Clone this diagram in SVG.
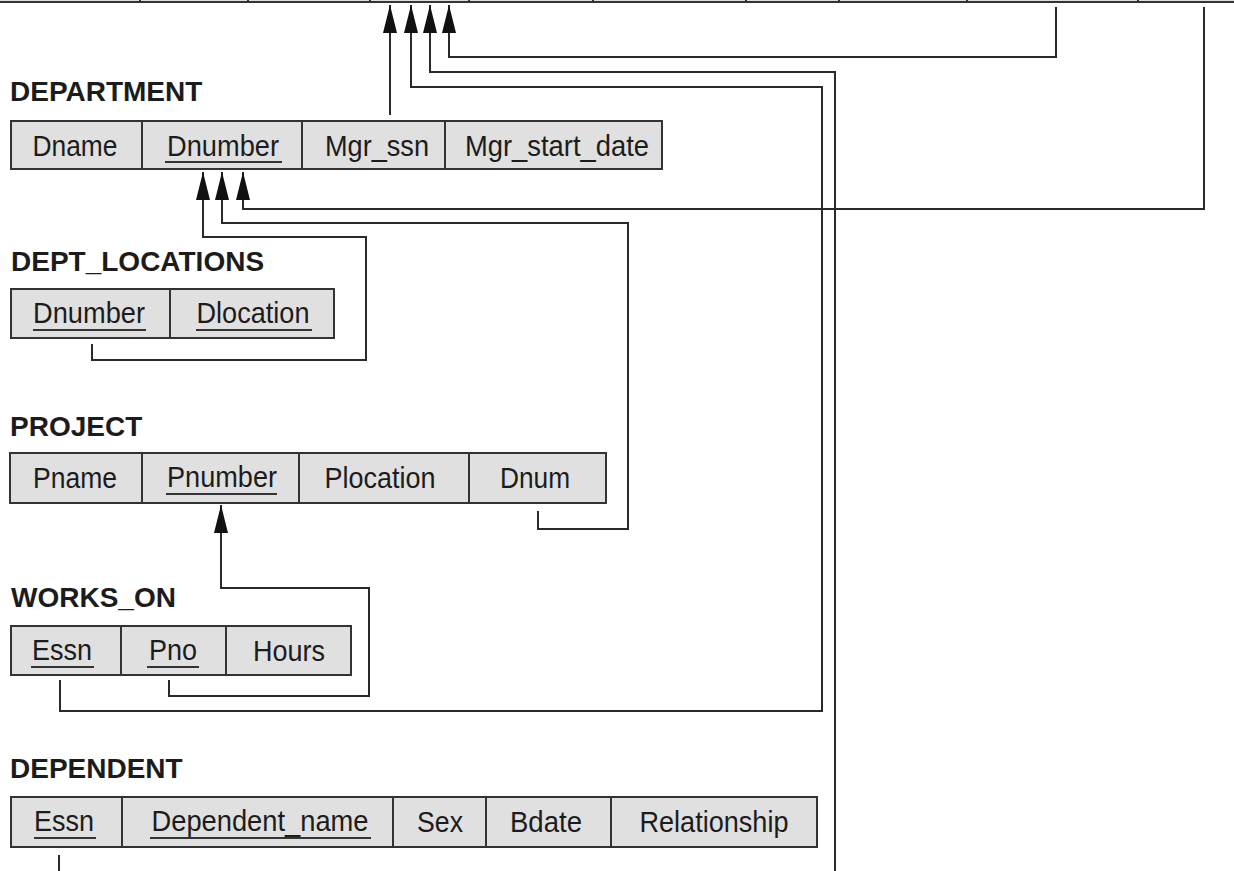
<svg xmlns="http://www.w3.org/2000/svg" width="1234" height="871" viewBox="0 0 1234 871">
<style>
.box{fill:#e0e0e0;stroke:#333;stroke-width:2}
.div{stroke:#333;stroke-width:2}
.cell{font-family:"Liberation Sans",Arial,sans-serif;font-size:29px;fill:#1c1c1c;text-anchor:middle}
.title{font-family:"Liberation Sans",Arial,sans-serif;font-size:28px;font-weight:bold;fill:#1c1c1c}
.ul{stroke:#333;stroke-width:2}
.conn{fill:none;stroke:#2a2a2a;stroke-width:2}
</style>
<defs>
<marker id="ah" markerUnits="userSpaceOnUse" markerWidth="28" markerHeight="14" viewBox="0 0 28 14" refX="28" refY="7" orient="auto">
<path d="M0,0 L28,7 L0,14 z" fill="#111"/>
</marker>
</defs>
<rect width="1234" height="871" fill="#fff"/>

<g id="employee">
<rect class="box" x="-5" y="-50" width="1244" height="52"/>
<path class="div" d="M140,-2V2 M248,-2V2 M370,-2V2 M469,-2V2 M593,-2V2 M746,-2V2 M839,-2V2 M967,-2V2 M1138,-2V2"/>
</g>

<g id="department">
<text class="title" x="10" y="101">DEPARTMENT</text>
<rect class="box" x="11" y="121" width="651" height="48"/>
<path class="div" d="M142,121V169 M302,121V169 M445,121V169"/>
<text class="cell" x="75" y="156" textLength="85" lengthAdjust="spacingAndGlyphs">Dname</text>
<text class="cell" x="223" y="156" textLength="112" lengthAdjust="spacingAndGlyphs">Dnumber</text>
<line class="ul" x1="165" y1="162" x2="282" y2="162"/>
<text class="cell" x="377" y="156" textLength="104" lengthAdjust="spacingAndGlyphs">Mgr_ssn</text>
<text class="cell" x="557" y="156" textLength="184" lengthAdjust="spacingAndGlyphs">Mgr_start_date</text>
</g>

<g id="dept_locations">
<text class="title" x="11" y="271">DEPT_LOCATIONS</text>
<rect class="box" x="11" y="289" width="323" height="49"/>
<path class="div" d="M170,289V338"/>
<text class="cell" x="89" y="323" textLength="112" lengthAdjust="spacingAndGlyphs">Dnumber</text>
<line class="ul" x1="33" y1="330" x2="146" y2="330"/>
<text class="cell" x="253" y="323" textLength="113" lengthAdjust="spacingAndGlyphs">Dlocation</text>
<line class="ul" x1="196" y1="330" x2="312" y2="330"/>
</g>

<g id="project">
<text class="title" x="10" y="436">PROJECT</text>
<rect class="box" x="10" y="453" width="596" height="50"/>
<path class="div" d="M142,453V503 M299,453V503 M469,453V503"/>
<text class="cell" x="75" y="488" textLength="84" lengthAdjust="spacingAndGlyphs">Pname</text>
<text class="cell" x="222" y="487" textLength="110" lengthAdjust="spacingAndGlyphs">Pnumber</text>
<line class="ul" x1="166" y1="494" x2="277" y2="494"/>
<text class="cell" x="380" y="488" textLength="111" lengthAdjust="spacingAndGlyphs">Plocation</text>
<text class="cell" x="535" y="488" textLength="70" lengthAdjust="spacingAndGlyphs">Dnum</text>
</g>

<g id="works_on">
<text class="title" x="11" y="607">WORKS_ON</text>
<rect class="box" x="11" y="626" width="340" height="49"/>
<path class="div" d="M121,626V675 M226,626V675"/>
<text class="cell" x="62" y="660" textLength="60" lengthAdjust="spacingAndGlyphs">Essn</text>
<line class="ul" x1="31" y1="667" x2="94" y2="667"/>
<text class="cell" x="173" y="660" textLength="48" lengthAdjust="spacingAndGlyphs">Pno</text>
<line class="ul" x1="147" y1="667" x2="199" y2="667"/>
<text class="cell" x="289" y="661" textLength="72" lengthAdjust="spacingAndGlyphs">Hours</text>
</g>

<g id="dependent">
<text class="title" x="10" y="778">DEPENDENT</text>
<rect class="box" x="11" y="797" width="806" height="50"/>
<path class="div" d="M122,797V847 M393,797V847 M486,797V847 M611,797V847"/>
<text class="cell" x="64" y="831" textLength="60" lengthAdjust="spacingAndGlyphs">Essn</text>
<line class="ul" x1="34" y1="838" x2="96" y2="838"/>
<text class="cell" x="260" y="831" textLength="217" lengthAdjust="spacingAndGlyphs">Dependent_name</text>
<line class="ul" x1="150" y1="838" x2="371" y2="838"/>
<text class="cell" x="440" y="832" textLength="46" lengthAdjust="spacingAndGlyphs">Sex</text>
<text class="cell" x="546" y="832" textLength="72" lengthAdjust="spacingAndGlyphs">Bdate</text>
<text class="cell" x="714" y="832" textLength="149" lengthAdjust="spacingAndGlyphs">Relationship</text>
</g>

<g id="connectors">
<path class="conn" marker-end="url(#ah)" d="M390,115 V5"/>
<path class="conn" marker-end="url(#ah)" d="M60,680 V711 H822 V87 H411 V5"/>
<path class="conn" marker-end="url(#ah)" d="M59,855 V890 H835 V72 H430 V5"/>
<path class="conn" marker-end="url(#ah)" d="M1056,7 V57 H449 V5"/>
<path class="conn" marker-end="url(#ah)" d="M1204,7 V209 H243 V172"/>
<path class="conn" marker-end="url(#ah)" d="M92,344 V360 H366 V237 H203 V172"/>
<path class="conn" marker-end="url(#ah)" d="M538,511 V529 H628 V223 H222 V172"/>
<path class="conn" marker-end="url(#ah)" d="M169,680 V696 H369 V588 H221 V505"/>
</g>
</svg>
